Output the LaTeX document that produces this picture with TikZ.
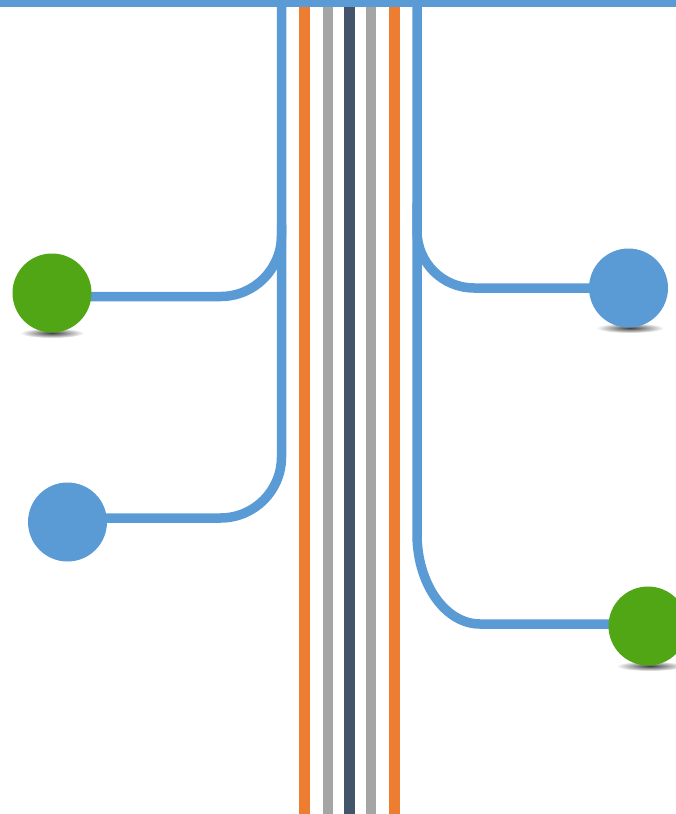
\documentclass[tikz,border=0pt]{standalone}
\usetikzlibrary{calc,backgrounds}
\definecolor{cblue}{HTML}{5B9BD5}
\definecolor{corange}{HTML}{ED7D31}
\definecolor{cgray}{HTML}{A5A5A5}
\definecolor{cdark}{HTML}{44546A}
\definecolor{cgreen}{RGB}{80,166,20}
\begin{document}
\begin{tikzpicture}[x=1pt,y=-1pt,
  dot/.style={circle,inner sep=0pt,minimum size=79pt},
  wire/.style={draw=cblue,line width=9.5pt},
  stripe/.style={line width=#1},
  shade shadow/.style={inner color=black!75,outer color=white}]
\useasboundingbox (0,0) rectangle (676,814);
% circles
\node[dot,fill=cgreen] (g1) at (52,293) {};
\node[dot,fill=cblue]  (b2) at (67.5,522) {};
\node[dot,fill=cblue]  (b1) at (628.5,288) {};
\node[dot,fill=cgreen] (g2) at (648,626) {};
% coordinates of the trunk lines
\coordinate (Ltop) at (281.5,0);
\coordinate (Rtop) at (417,0);
\coordinate (L1) at (281.5,225);
\coordinate (R1) at (417,203);
\coordinate (Rc) at (417,534);
\begin{scope}[on background layer]
  % shadows
  \shade[shade shadow] (52,333) ellipse[x radius=32pt,y radius=5pt];
  \shade[shade shadow] (630,328) ellipse[x radius=34pt,y radius=5pt];
  \shade[shade shadow] (650,666) ellipse[x radius=34pt,y radius=5pt];
  % stripes
  \draw[corange,stripe=11pt] (304.5,0) -- (304.5,814);
  \draw[cgray,stripe=10pt]   (328,0) -- (328,814);
  \draw[cdark,stripe=11pt]   (349.5,0) -- (349.5,814);
  \draw[cgray,stripe=10pt]   (371,0) -- (371,814);
  \draw[corange,stripe=11pt] (394.5,0) -- (394.5,814);
  % blue wires
  \draw[wire,rounded corners=61pt] (Ltop) |- ($(b2.center)+(0,-4)$);
  \draw[wire,rounded corners=61pt] (L1) |- ($(g1.center)+(0,3.5)$);
  \draw[wire,rounded corners=57pt] (R1) |- (b1.center);
  \draw[wire] (Rtop) -- (Rc) .. controls (417,583.7) and (445.2,624) .. (480,624) -- ($(g2.center)+(0,-2)$);
  % top bar
  \fill[cblue] (0,0) rectangle (676,7);
\end{scope}
\end{tikzpicture}
\end{document}
